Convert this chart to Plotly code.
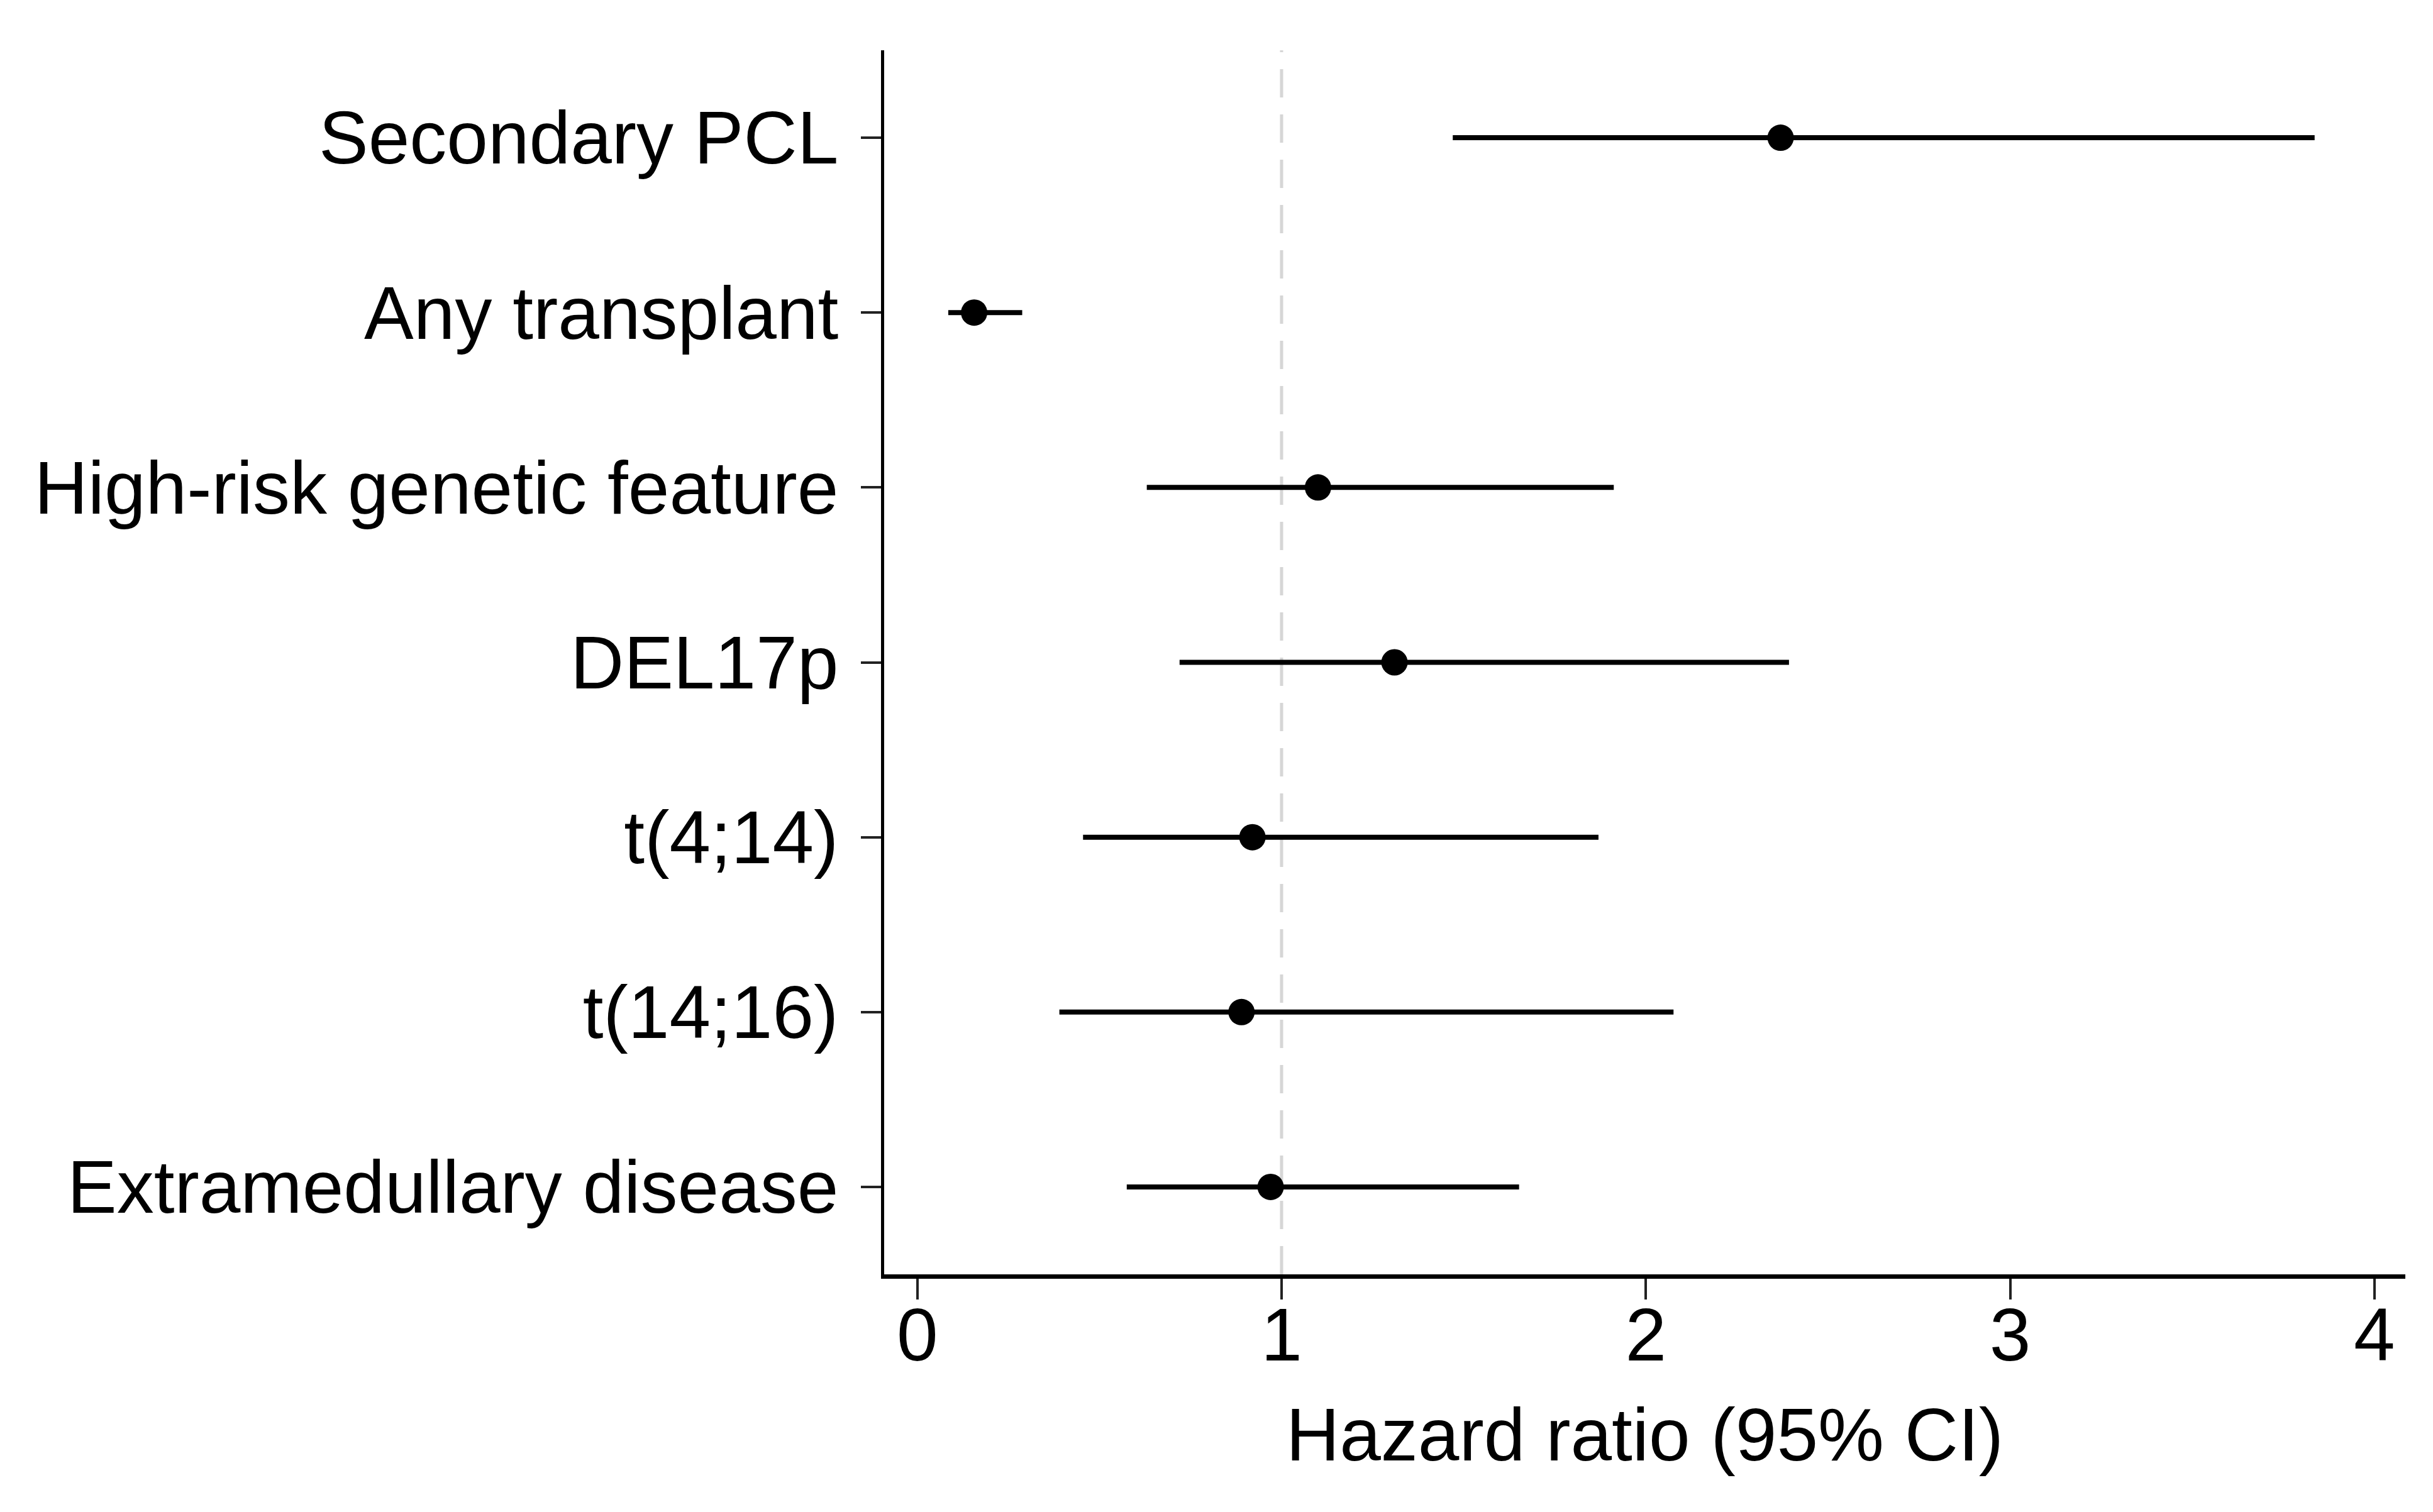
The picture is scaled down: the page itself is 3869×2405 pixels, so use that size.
import plotly.graph_objects as go

categories = ["Secondary PCL", "Any transplant", "High-risk genetic feature", "DEL17p",
              "t(4;14)", "t(14;16)", "Extramedullary disease"]
hr = [2.37, 0.156, 1.10, 1.31, 0.92, 0.89, 0.97]
ci_low = [1.47, 0.085, 0.63, 0.72, 0.455, 0.39, 0.575]
ci_high = [3.836, 0.288, 1.912, 2.393, 1.87, 2.076, 1.652]
x_ticks = [0, 1, 2, 3, 4]
x_title = "Hazard ratio (95% CI)"
ref_value = 1

FONT = "Liberation Sans, Arial, Helvetica, sans-serif"
FS = 118

fig = go.Figure()
fig.add_trace(go.Scatter(
    x=hr, y=categories, mode="markers",
    marker=dict(color="black", size=42, line=dict(width=0)),
    error_x=dict(type="data", symmetric=False,
                 array=[h - m for h, m in zip(ci_high, hr)],
                 arrayminus=[m - l for m, l in zip(hr, ci_low)],
                 color="black", thickness=8, width=0),
    showlegend=False, cliponaxis=False,
))

fig.add_shape(type="line", xref="x", yref="paper", x0=ref_value, x1=ref_value, y0=0, y1=1,
              line=dict(color="#d6d6d6", width=5, dash="45px,27px"), layer="below")

fig.update_layout(
    width=3869, height=2405,
    margin=dict(l=1398, r=52, t=72, b=386),
    paper_bgcolor="white", plot_bgcolor="white",
    font=dict(family=FONT, size=FS, color="black"),
)
fig.update_xaxes(
    range=[-0.091, 4.085], tickvals=x_ticks, ticktext=[str(v) for v in x_ticks],
    showgrid=False, zeroline=False, showline=True, linecolor="black", linewidth=7,
    ticks="outside", ticklen=33, tickwidth=4, tickcolor="#222222",
    tickfont=dict(family=FONT, size=FS, color="black"),
    ticklabelstandoff=-45,
    title=dict(text=x_title, font=dict(family=FONT, size=FS, color="black"), standoff=55),
)
fig.update_yaxes(
    categoryorder="array", categoryarray=categories, autorange=False, range=[6.5, -0.5],
    showgrid=False, zeroline=False, showline=True, linecolor="black", linewidth=5,
    ticks="outside", ticklen=32, tickwidth=4, tickcolor="#222222",
    tickfont=dict(family=FONT, size=FS, color="black"),
    ticklabelstandoff=12,
)

fig.write_html("out.html")
